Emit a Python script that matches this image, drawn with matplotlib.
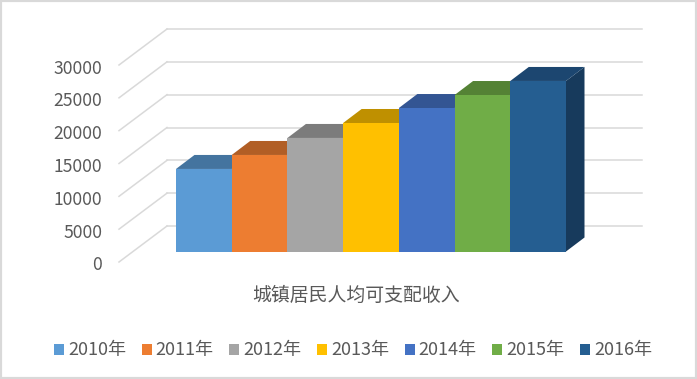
import matplotlib
matplotlib.use("Agg")
import matplotlib.pyplot as plt
from matplotlib.patches import Polygon, Rectangle
from matplotlib.transforms import ScaledTranslation

plt.rcParams['font.family'] = ['Noto Sans CJK SC', 'DejaVu Sans']

years = ['2010年', '2011年', '2012年', '2013年', '2014年', '2015年', '2016年']
income = [12570, 14700, 17290, 19570, 21850, 23830, 25970]
front_colors = ['#5B9BD5', '#ED7D31', '#A5A5A5', '#FFC000', '#4472C4', '#70AD47', '#255E91']
top_colors = ['#44749F', '#B15E25', '#7C7C7C', '#BF9000', '#335593', '#548235', '#1C4670']
side_colors = ['#38607F', '#93491D', '#666666', '#9E7700', '#2A4679', '#456C2C', '#173A5C']
y_ticks = [0, 5000, 10000, 15000, 20000, 25000, 30000]
x_title = '城镇居民人均可支配收入'
TEXT = '#595959'
GRID = '#D9D9D9'

W, H = 697, 379
fig = plt.figure(figsize=(W / 100, H / 100), dpi=100, facecolor='white')


def axes_px(x0, x1, ytop, ybot, z):
    a = fig.add_axes([x0 / W, 1 - ybot / H, (x1 - x0) / W, (ybot - ytop) / H], zorder=z)
    a.patch.set_alpha(0)
    for s in a.spines.values():
        s.set_visible(False)
    a.set_ylim(0, 30000)
    return a


# outer frame
fig.add_artist(Rectangle((0, 0), 1, 1, transform=fig.transFigure, fill=False,
                         edgecolor=GRID, linewidth=3.0))

# back wall: horizontal gridlines
back = axes_px(167, 642, 29, 226, 0)
back.set_xticks([])
back.set_yticks(y_ticks)
back.set_yticklabels([])
back.tick_params(length=0)
back.grid(axis='y', color=GRID, linewidth=1.1)
for g in back.get_ygridlines():
    g.set_clip_on(False)

# front of the side wall: tick labels and slanted gridlines
side = axes_px(119, 167, 65, 262, 1)
side.set_xlim(0, 1)
side.set_xticks([])
side.set_yticks(y_ticks)
side.set_yticklabels([str(v) for v in y_ticks], fontsize=12.6, color=TEXT)
side.tick_params(axis='y', length=0, pad=12)
shift = ScaledTranslation(0, -1.5 / 100, fig.dpi_scale_trans)
for lab in side.get_yticklabels():
    lab.set_transform(lab.get_transform() + shift)
rise = 36 / 197 * 30000
for v in y_ticks:
    side.plot([0, 1], [v, v + rise], color=GRID, linewidth=1.1, clip_on=False)

# bars
ax = axes_px(176, 566, 54.5, 251.5, 2)
ax.set_xlim(-0.5, 6.5)
ax.set_yticks([])
ax.set_xticks([])
dx = 18.5 / (390 / 7)
dv = 14 / 197 * 30000
xs = list(range(len(years)))
for i, v, tc, sc in zip(xs, income, top_colors, side_colors):
    l, r = i - 0.5, i + 0.5
    ax.add_patch(Polygon([(r, 0), (r + dx, dv), (r + dx, v + dv), (r, v)],
                         facecolor=sc, edgecolor='none', clip_on=False, zorder=1))
    ax.add_patch(Polygon([(l, v), (l + dx, v + dv), (r + dx, v + dv), (r, v)],
                         facecolor=tc, edgecolor='none', clip_on=False, zorder=1))
bars = ax.bar(xs, income, width=1.0, color=front_colors, zorder=2)
for b, lab in zip(bars, years):
    b.set_label(lab)

ax.set_xlabel(x_title, fontsize=13.6, color=TEXT, va='center')
ax.xaxis.set_label_coords((356.5 - 176) / 390, (251.5 - 295) / 197)

fig.legend(handles=list(bars), labels=years, ncol=7, loc='center',
           bbox_to_anchor=(353 / W, 1 - 350.5 / H), frameon=False,
           fontsize=13, labelcolor=TEXT, handlelength=0.555, handleheight=0.555,
           handletextpad=0.22, columnspacing=0.865, borderpad=0, borderaxespad=0)

fig.savefig('out.png', dpi=100, facecolor='white')
